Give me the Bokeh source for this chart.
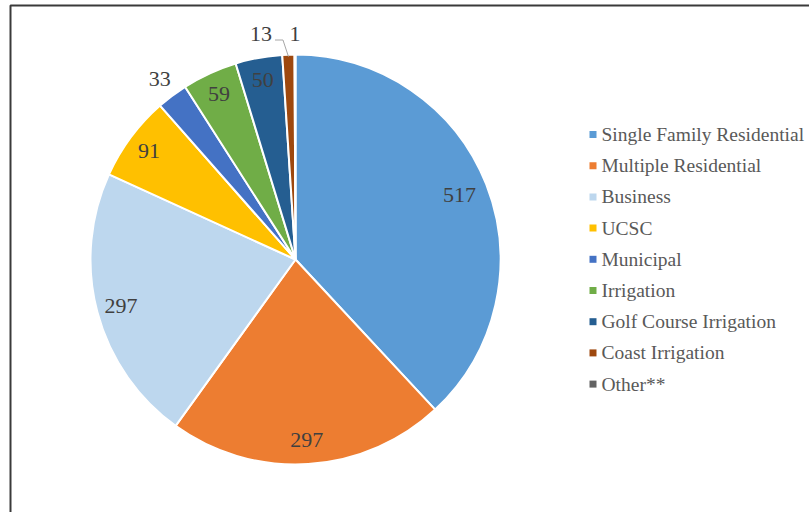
import numpy as np
from bokeh.plotting import figure
from bokeh.models import Range1d
from bokeh.core.properties import value
from bokeh.embed import file_html
from bokeh.resources import INLINE

categories = ["Single Family Residential", "Multiple Residential", "Business", "UCSC",
              "Municipal", "Irrigation", "Golf Course Irrigation", "Coast Irrigation", "Other**"]
counts = [517, 297, 297, 91, 33, 59, 50, 13, 1]
colors = ["#5B9BD5", "#ED7D31", "#BDD7EE", "#FFC000", "#4472C4",
          "#70AD47", "#255E91", "#9E480E", "#636363"]

W, H = 809, 512
FONT = "'Liberation Serif', 'Times New Roman', serif"

p = figure(width=W, height=H, x_range=Range1d(0, W), y_range=Range1d(0, H),
           output_backend="svg", toolbar_location=None,
           x_axis_type=None, y_axis_type=None, min_border=0)
p.grid.visible = False
p.outline_line_color = None
p.background_fill_color = "white"
p.border_fill_color = "white"

# frame border (left and top edges visible)
p.line([10, 10, W + 5], [-5, H - 5, H - 5], line_color="#3a3a3a", line_width=2)

cx, cy, R = 295, H - 259, 205
total = float(sum(counts))
cum = np.cumsum([0] + counts)
start = np.pi / 2 - 2 * np.pi * cum[:-1] / total
end = np.pi / 2 - 2 * np.pi * cum[1:] / total
p.wedge(x=cx, y=cy, radius=R, start_angle=start, end_angle=end, direction="clock",
        fill_color=colors, line_color="white", line_width=2)

# data labels
mid = (start + end) / 2
lab_r = [0.86, 0.88, 0.88, 0.89, 1.10, 0.89, 0.89, 1.10, 1.10]
lx = [cx + R * f * np.cos(a) for f, a in zip(lab_r, mid)]
ly = [cy + R * f * np.sin(a) for f, a in zip(lab_r, mid)]
# shift the "13" label left to avoid overlap with "1" (leader line used)
lx[7] = lx[8] - 34
ly[7] = ly[8]
p.text(x=lx, y=ly, text=[str(c) for c in counts], text_align="center",
       text_baseline="middle", text_font=value(FONT), text_font_size="22px",
       text_color="#404040")

# leader line for the "13" label
ax = cx + (R - 2) * np.cos(mid[7])
ay = cy + (R - 2) * np.sin(mid[7])
p.line([lx[7] + 14, lx[7] + 22, ax], [ly[7] - 6, ly[7] - 6, ay],
       line_color="#a6a6a6", line_width=1)

# legend
leg_y = [H - (134 + 31.2 * i) for i in range(len(categories))]
p.rect(x=[592.5] * len(categories), y=leg_y, width=7, height=7,
       fill_color=colors, line_color=None)
p.text(x=[601] * len(categories), y=leg_y, text=categories, text_align="left",
       text_baseline="middle", text_font=value(FONT), text_font_size="19.5px",
       text_color="#595959")

open("out.html", "w").write(file_html(p, INLINE))
